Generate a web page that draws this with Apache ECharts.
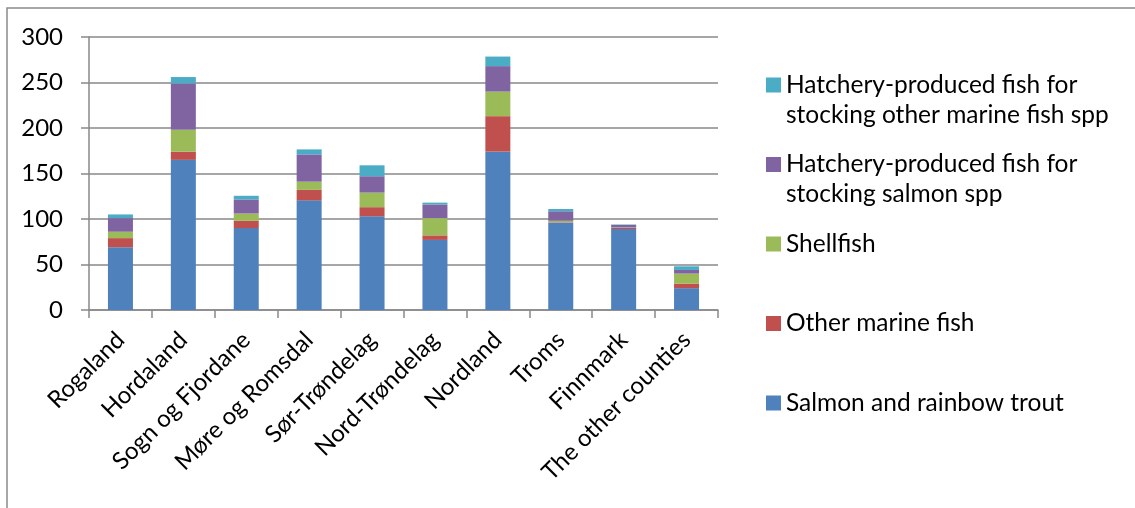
<!DOCTYPE html>
<html>
<head>
<meta charset="utf-8">
<script src="https://cdn.jsdelivr.net/npm/echarts@6/dist/echarts.min.js"></script>
<style>
  html, body { margin: 0; padding: 0; background: #ffffff; }
  #chart { width: 1135px; height: 508px; }
</style>
</head>
<body>
<div id="chart"></div>
<script>
// Aquaculture production by county, stacked by group
const counties = ['Rogaland', 'Hordaland', 'Sogn og Fjordane', 'Møre og Romsdal', 'Sør-Trøndelag',
  'Nord-Trøndelag', 'Nordland', 'Troms', 'Finnmark', 'The other counties'];
const yTicks = [0, 50, 100, 150, 200, 250, 300];

const salmonTrout      = [69, 165, 90, 120.5, 103, 77, 174, 96, 89, 24];
const otherMarine      = [10, 9, 8, 11.5, 10, 5, 39, 0.5, 1.5, 5];
const shellfish        = [7, 24, 8, 9, 16, 19, 27, 1.5, 0.3, 11];
const hatcherySalmon   = [15, 51, 15.5, 30, 18, 15, 28, 10.5, 2.7, 4];
const hatcheryMarine   = [4, 7, 4, 5.5, 12, 2, 10.5, 2.5, 0.5, 4];

const seriesDefs = [
  { name: 'Salmon and rainbow trout', data: salmonTrout, color: '#4F81BD' },
  { name: 'Other marine fish', data: otherMarine, color: '#C0504D' },
  { name: 'Shellfish', data: shellfish, color: '#9BBB59' },
  { name: 'Hatchery-produced fish for stocking salmon spp', data: hatcherySalmon, color: '#8064A2' },
  { name: 'Hatchery-produced fish for stocking other marine fish spp', data: hatcheryMarine, color: '#4BACC6' }
];

// Legend text wrapped into two lines per entry
const legendText = {
  'Hatchery-produced fish for stocking other marine fish spp': 'Hatchery-produced fish for\nstocking other marine fish spp',
  'Hatchery-produced fish for stocking salmon spp': 'Hatchery-produced fish for\nstocking salmon spp',
  'Shellfish': 'Shellfish\n\u00a0',
  'Other marine fish': 'Other marine fish\n\u00a0',
  'Salmon and rainbow trout': 'Salmon and rainbow trout\n\u00a0'
};

// Square marker aligned with the first text line (tiny corner dots fix the box size)
const topSquare = 'path://M0,0h15v15h-15z M14.95,44.95h0.05v0.05h-0.05z';

const FONT = 'Lato';
const axisGray = '#898989';

const chart = echarts.init(document.getElementById('chart'));
chart.setOption({
  animation: false,
  textStyle: { fontFamily: FONT },
  grid: { left: 89, right: 417, top: 37, bottom: 198, containLabel: false },
  legend: {
    orient: 'vertical',
    left: 766,
    top: 70,
    padding: 0,
    itemGap: 19.5,
    itemWidth: 15,
    itemHeight: 45,
    itemTextGap: 7,
    icon: topSquare,
    data: seriesDefs.slice().reverse().map(s => s.name),
    formatter: name => legendText[name],
    textStyle: { fontFamily: FONT, fontSize: 24.5, color: '#000', lineHeight: 30 }
  },
  xAxis: {
    type: 'category',
    data: counties,
    axisLine: { lineStyle: { color: axisGray, width: 1.5 } },
    axisTick: { show: true, length: 8, alignWithLabel: false, lineStyle: { color: axisGray, width: 1.5 } },
    axisLabel: { rotate: 45, margin: 26, interval: 0, fontFamily: FONT, fontSize: 24, color: '#000' }
  },
  yAxis: {
    type: 'value',
    min: yTicks[0],
    max: yTicks[yTicks.length - 1],
    interval: yTicks[1] - yTicks[0],
    axisLine: { show: true, lineStyle: { color: axisGray, width: 1.5 } },
    axisTick: { show: true, length: 8, lineStyle: { color: axisGray, width: 1.5 } },
    splitLine: { show: true, lineStyle: { color: axisGray, width: 1.5 } },
    axisLabel: { margin: 26, fontFamily: FONT, fontSize: 24, color: '#000' }
  },
  series: seriesDefs.map(s => ({
    name: s.name,
    type: 'bar',
    stack: 'total',
    barWidth: 25,
    data: s.data,
    itemStyle: { color: s.color }
  })),
  graphic: [{
    type: 'rect',
    silent: true,
    shape: { x: 7, y: 8, width: 1200, height: 600 },
    style: { fill: 'none', stroke: '#8a8a8a', lineWidth: 1.5 }
  }]
});
</script>
</body>
</html>
